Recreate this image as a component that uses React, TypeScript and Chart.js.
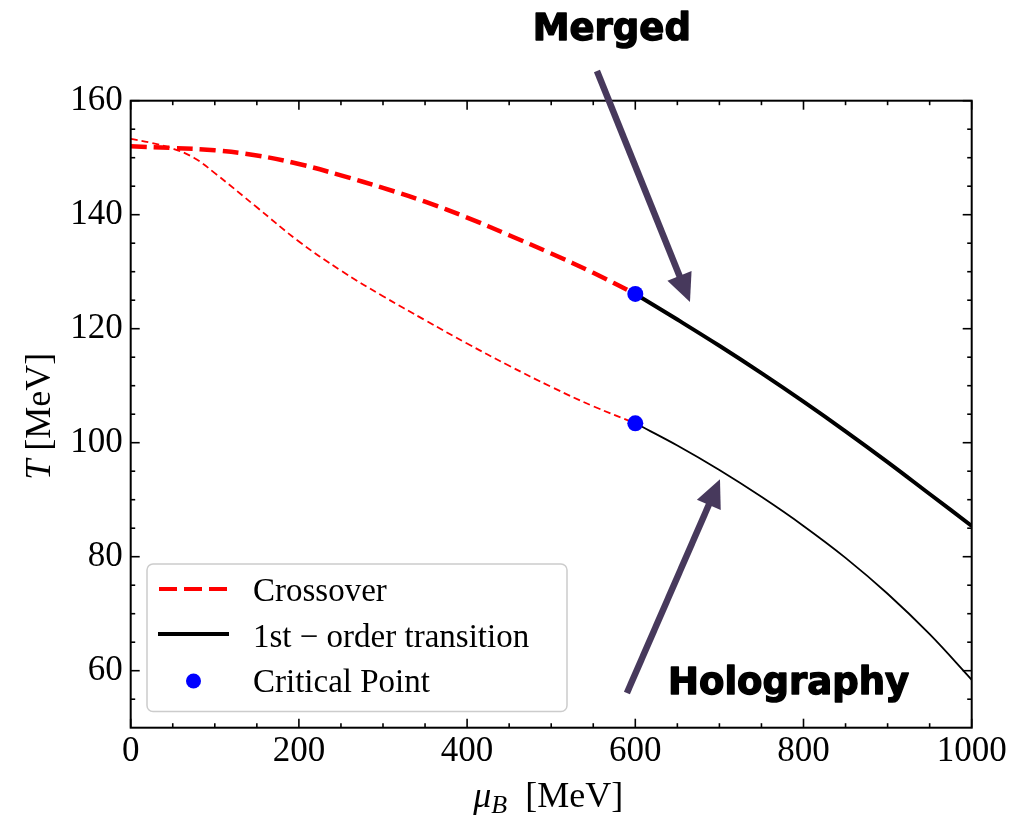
import React, { useEffect, useRef } from "react";
import { Chart, registerables } from "chart.js";

Chart.register(...registerables);

// ---- data ----
const muCrossMerged = [0, 50, 100, 150, 200, 250, 300, 350, 400, 450, 500, 550, 600];
const TCrossMerged = [152.0, 151.7, 151.3, 150.4, 148.9, 146.9, 144.7, 142.3, 139.5, 136.4, 133.2, 129.8, 126.1];
const muFirstMerged = [600, 650, 700, 750, 800, 850, 900, 950, 1000];
const TFirstMerged = [126.1, 121.6, 117.0, 112.2, 107.2, 102.0, 96.6, 91.0, 85.4];
const muCrossHolo = [0, 25, 50, 75, 100, 150, 200, 250, 300, 350, 400, 450, 500, 550, 600];
const TCrossHolo = [153.3, 152.6, 151.6, 150.0, 147.3, 141.3, 135.3, 130.2, 125.7, 121.5, 117.4, 113.5, 109.8, 106.4, 103.4];
const muFirstHolo = [600, 650, 700, 750, 800, 850, 900, 950, 1000];
const TFirstHolo = [103.4, 99.5, 95.2, 90.5, 85.4, 79.8, 73.5, 66.4, 58.4];
const critMu = [600, 600];
const critT = [126.1, 103.4];

const xTicks = [0, 200, 400, 600, 800, 1000];
const yTicks = [60, 80, 100, 120, 140, 160];
const xMinorStep = 50;
const yMinorStep = 5;
const xRange = [0, 1000];
const yRange = [50, 160];

const legendLabels = ["Crossover", "1st \u2212 order transition", "Critical Point"];
const annotationTexts = ["Merged", "Holography"];
// arrows: [tailMu, tailT, tipMu, tipT]
const arrowMerged = [554.4, 165.2, 665, 124.7];
const arrowHolo = [590, 56.1, 700.7, 93.6];
// text anchors [mu, T]
const textMergedPos = [572, 170.6];
const textHoloPos = [638.9, 55.9];

const toXY = (xs: number[], ys: number[]) => xs.map((x, i) => ({ x, y: ys[i] }));

const SERIF = "'Liberation Serif', 'Times New Roman', serif";
const ARROW_COLOR = "#47395c";

function drawArrow(ctx: CanvasRenderingContext2D, x0: number, y0: number, x1: number, y1: number) {
  const ang = Math.atan2(y1 - y0, x1 - x0);
  const c = Math.cos(ang), s = Math.sin(ang);
  const headLen = 28, headW = 13, shaftW = 6.5;
  const bx = x1 - headLen * c, by = y1 - headLen * s;
  ctx.strokeStyle = ARROW_COLOR;
  ctx.fillStyle = ARROW_COLOR;
  ctx.lineWidth = shaftW;
  ctx.lineCap = "butt";
  ctx.setLineDash([]);
  ctx.beginPath();
  ctx.moveTo(x0, y0);
  ctx.lineTo(bx + 2 * c, by + 2 * s);
  ctx.stroke();
  ctx.beginPath();
  ctx.moveTo(x1, y1);
  ctx.lineTo(bx + headW * s, by - headW * c);
  ctx.lineTo(bx - headW * s, by + headW * c);
  ctx.closePath();
  ctx.fill();
}

const decorPlugin = {
  id: "decor",
  afterDraw(chart: any) {
    const { ctx, chartArea: a, scales } = chart;
    const xs = scales.x, ys = scales.y;
    ctx.save();
    // frame
    ctx.strokeStyle = "#000";
    ctx.lineWidth = 2;
    ctx.setLineDash([]);
    ctx.strokeRect(a.left, a.top, a.right - a.left, a.bottom - a.top);
    // ticks (inward, all sides)
    ctx.lineWidth = 1.6;
    const seg = (x0: number, y0: number, x1: number, y1: number) => {
      ctx.beginPath();
      ctx.moveTo(x0, y0);
      ctx.lineTo(x1, y1);
      ctx.stroke();
    };
    for (let v = xRange[0]; v <= xRange[1]; v += xMinorStep) {
      const len = xTicks.includes(v) ? 9 : 4.5;
      const px = xs.getPixelForValue(v);
      seg(px, a.bottom, px, a.bottom - len);
      seg(px, a.top, px, a.top + len);
    }
    for (let v = yRange[0] + yMinorStep; v <= yRange[1]; v += yMinorStep) {
      const len = yTicks.includes(v) ? 9 : 4.5;
      const py = ys.getPixelForValue(v);
      seg(a.left, py, a.left + len, py);
      seg(a.right, py, a.right - len, py);
    }

    // axis titles
    ctx.fillStyle = "#000";
    ctx.textBaseline = "alphabetic";
    // x title: mu_B [MeV]
    {
      const big = 36, small = 26;
      const fMu = `italic ${big}px ${SERIF}`;
      const fB = `italic ${small}px ${SERIF}`;
      const fRest = `${big}px ${SERIF}`;
      ctx.font = fMu; const wMu = ctx.measureText("\u03bc").width;
      ctx.font = fB; const wB = ctx.measureText("B").width;
      ctx.font = fRest; const wR = ctx.measureText("  [MeV]").width;
      const total = wMu + wB + wR;
      const cx = (a.left + a.right) / 2 - 3;
      let x = cx - total / 2;
      const base = 806.5;
      ctx.textAlign = "left";
      ctx.font = fMu; ctx.fillText("\u03bc", x, base); x += wMu;
      ctx.font = fB; ctx.fillText("B", x, base + 6); x += wB;
      ctx.font = fRest; ctx.fillText("  [MeV]", x, base);
    }
    // y title: T [MeV]
    {
      const size = 36;
      const fT = `italic ${size}px ${SERIF}`;
      const fRest = `${size}px ${SERIF}`;
      ctx.font = fT; const wT = ctx.measureText("T").width;
      ctx.font = fRest; const wR = ctx.measureText(" [MeV]").width;
      const total = wT + wR;
      ctx.save();
      ctx.translate(50, (a.top + a.bottom) / 2 + 2);
      ctx.rotate(-Math.PI / 2);
      ctx.textAlign = "left";
      let x = -total / 2;
      ctx.font = fT; ctx.fillText("T", x, 0); x += wT;
      ctx.font = fRest; ctx.fillText(" [MeV]", x, 0);
      ctx.restore();
    }

    // legend
    {
      const lx = 147, ly = 564, lw = 420, lh = 147.5, r = 6;
      ctx.beginPath();
      ctx.moveTo(lx + r, ly);
      ctx.arcTo(lx + lw, ly, lx + lw, ly + lh, r);
      ctx.arcTo(lx + lw, ly + lh, lx, ly + lh, r);
      ctx.arcTo(lx, ly + lh, lx, ly, r);
      ctx.arcTo(lx, ly, lx + lw, ly, r);
      ctx.closePath();
      ctx.fillStyle = "rgba(255,255,255,0.8)";
      ctx.fill();
      ctx.strokeStyle = "#cccccc";
      ctx.lineWidth = 1.5;
      ctx.stroke();

      const rowsY = [589, 634, 681];
      ctx.strokeStyle = "#ff0000";
      ctx.lineWidth = 4;
      ctx.setLineDash([18, 7]);
      seg(159, rowsY[0], 229, rowsY[0]);
      ctx.setLineDash([]);
      ctx.strokeStyle = "#000";
      seg(158, rowsY[1], 229, rowsY[1]);
      ctx.fillStyle = "#0000ff";
      ctx.beginPath();
      ctx.arc(193.5, rowsY[2], 7.5, 0, Math.PI * 2);
      ctx.fill();

      ctx.fillStyle = "#000";
      ctx.font = `33px ${SERIF}`;
      ctx.textAlign = "left";
      ctx.textBaseline = "alphabetic";
      ctx.fillText(legendLabels[0], 253, 600.5);
      ctx.fillText(legendLabels[1], 253, 646.5);
      ctx.fillText(legendLabels[2], 253, 692);
    }

    // arrows + annotation text
    drawArrow(ctx,
      xs.getPixelForValue(arrowMerged[0]), ys.getPixelForValue(arrowMerged[1]),
      xs.getPixelForValue(arrowMerged[2]), ys.getPixelForValue(arrowMerged[3]));
    drawArrow(ctx,
      xs.getPixelForValue(arrowHolo[0]), ys.getPixelForValue(arrowHolo[1]),
      xs.getPixelForValue(arrowHolo[2]), ys.getPixelForValue(arrowHolo[3]));
    ctx.fillStyle = "#000";
    ctx.strokeStyle = "#000";
    ctx.lineWidth = 1.4;
    ctx.lineJoin = "round";
    ctx.font = `bold 37px 'DejaVu Sans', sans-serif`;
    ctx.textBaseline = "alphabetic";
    ctx.textAlign = "center";
    const mx = xs.getPixelForValue(textMergedPos[0]), my = ys.getPixelForValue(textMergedPos[1]);
    ctx.fillText(annotationTexts[0], mx, my);
    ctx.strokeText(annotationTexts[0], mx, my);
    ctx.textAlign = "left";
    const hx = xs.getPixelForValue(textHoloPos[0]), hy = ys.getPixelForValue(textHoloPos[1]);
    ctx.fillText(annotationTexts[1], hx, hy);
    ctx.strokeText(annotationTexts[1], hx, hy);

    ctx.restore();
  },
};

export default function App() {
  const ref = useRef<HTMLCanvasElement | null>(null);

  useEffect(() => {
    if (!ref.current) return;
    const chart = new Chart(ref.current, {
      type: "line",
      data: {
        datasets: [
          {
            label: "Critical Point",
            data: toXY(critMu, critT),
            showLine: false,
            pointRadius: 8,
            pointBackgroundColor: "#0000ff",
            pointBorderWidth: 0,
            borderColor: "#0000ff",
          },
          {
            label: "Crossover (merged)",
            data: toXY(muCrossMerged, TCrossMerged),
            borderColor: "#ff0000",
            borderWidth: 4.5,
            borderDash: [16, 7],
            pointRadius: 0,
            tension: 0.4,
            fill: false,
          },
          {
            label: "1st-order (merged)",
            data: toXY(muFirstMerged, TFirstMerged),
            borderColor: "#000000",
            borderWidth: 4,
            pointRadius: 0,
            tension: 0.4,
            fill: false,
          },
          {
            label: "Crossover (holography)",
            data: toXY(muCrossHolo, TCrossHolo),
            borderColor: "#ff0000",
            borderWidth: 1.8,
            borderDash: [7, 4],
            pointRadius: 0,
            tension: 0.4,
            fill: false,
          },
          {
            label: "1st-order (holography)",
            data: toXY(muFirstHolo, TFirstHolo),
            borderColor: "#000000",
            borderWidth: 1.8,
            pointRadius: 0,
            tension: 0.4,
            fill: false,
          },
        ],
      },
      options: {
        responsive: false,
        animation: false,
        devicePixelRatio: 1,
        layout: { padding: { left: 0, top: 100.7, right: 52.3, bottom: 0 } },
        plugins: {
          legend: { display: false },
          tooltip: { enabled: false },
        },
        scales: {
          x: {
            type: "linear",
            position: "bottom",
            min: xRange[0],
            max: xRange[1],
            grid: { display: false, drawTicks: false },
            border: { display: false },
            ticks: {
              color: "#000",
              font: { family: SERIF, size: 35 },
              padding: 3,
              maxRotation: 0,
              callback: (v: any) => String(v),
            },
            afterBuildTicks: (s: any) => {
              s.ticks = xTicks.map((v) => ({ value: v }));
            },
            afterFit: (s: any) => {
              s.height = 819 - 727.7;
            },
          },
          y: {
            type: "linear",
            position: "left",
            min: yRange[0],
            max: yRange[1],
            grid: { display: false, drawTicks: false },
            border: { display: false },
            ticks: {
              color: "#000",
              font: { family: SERIF, size: 35 },
              padding: 8,
              callback: (v: any) => String(v),
            },
            afterBuildTicks: (s: any) => {
              s.ticks = yTicks.map((v) => ({ value: v }));
            },
            afterFit: (s: any) => {
              s.width = 130.7;
            },
          },
        },
      },
      plugins: [decorPlugin],
    } as any);
    return () => chart.destroy();
  }, []);

  return (
    <div style={{ position: "absolute", left: 0, top: 0, width: 1024, height: 819, background: "#fff" }}>
      <canvas ref={ref} width={1024} height={819} style={{ width: 1024, height: 819, display: "block" }} />
    </div>
  );
}
